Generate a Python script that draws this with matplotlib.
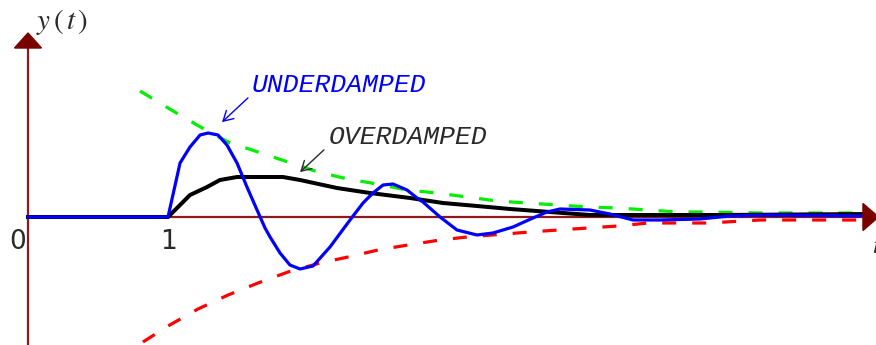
import matplotlib
matplotlib.use("Agg")
import matplotlib.pyplot as plt
from matplotlib.patches import Polygon, FancyArrowPatch

# Step responses read as (t, y) samples
under_t = [0.0, 1.0, 1.086, 1.157, 1.229, 1.286, 1.357, 1.421, 1.493, 1.564,
           1.636, 1.693, 1.729, 1.80, 1.871, 1.943, 2.036, 2.157, 2.30, 2.393,
           2.464, 2.536, 2.607, 2.707, 2.779, 2.821, 2.943, 3.064, 3.207, 3.321,
           3.464, 3.607, 3.707, 3.80, 4.014, 4.157, 4.321, 4.514, 4.80, 5.014,
           5.30, 6.03]
under_y = [0.0, 0.0, 0.54, 0.70, 0.82, 0.84, 0.82, 0.72, 0.54, 0.30,
           0.07, -0.11, -0.20, -0.36, -0.48, -0.52, -0.49, -0.30, -0.03, 0.14,
           0.24, 0.32, 0.33, 0.27, 0.19, 0.15, 0.0, -0.13, -0.18, -0.16,
           -0.10, -0.01, 0.05, 0.08, 0.07, 0.03, -0.03, -0.03, -0.02, 0.01,
           0.02, 0.01]

over_t = [0.0, 1.0, 1.086, 1.157, 1.279, 1.371, 1.493, 1.636, 1.821, 1.943,
          2.207, 2.443, 2.729, 2.964, 3.207, 3.443, 3.729, 4.014, 4.943, 6.03]
over_y = [0.0, 0.0, 0.12, 0.22, 0.30, 0.37, 0.40, 0.40, 0.40, 0.37,
          0.29, 0.24, 0.19, 0.14, 0.11, 0.08, 0.05, 0.02, 0.02, 0.03]

upper_t = [0.80, 1.0, 1.207, 1.429, 1.643, 1.857, 2.071, 2.286, 2.493, 2.707,
           2.921, 3.136, 3.35, 3.564, 3.786, 4.0, 4.207, 4.429, 4.643, 4.857,
           5.229, 6.03]
upper_y = [1.26, 1.09, 0.92, 0.75, 0.65, 0.55, 0.45, 0.38, 0.33, 0.27,
           0.24, 0.20, 0.16, 0.14, 0.12, 0.10, 0.09, 0.07, 0.05, 0.05,
           0.04, 0.04]

lower_t = [0.821, 1.0, 1.214, 1.429, 1.643, 1.857, 2.086, 2.286, 2.5, 2.714,
           2.943, 3.136, 3.586, 3.786, 4.0, 4.214, 4.429, 4.643, 4.857, 5.229,
           6.03]
lower_y = [-1.25, -1.09, -0.92, -0.78, -0.66, -0.55, -0.46, -0.40, -0.33, -0.28,
           -0.23, -0.20, -0.15, -0.13, -0.11, -0.09, -0.06, -0.06, -0.06, -0.03,
           -0.03]

x_ticks = [0, 1]
x_tick_labels = ["0", "1"]

AXIS_COLOR = "#8b1a1a"
PX = 0.72  # points per pixel at dpi 100

plt.rcParams["mathtext.fontset"] = "stix"

fig = plt.figure(figsize=(8.76, 3.45), dpi=100)
ax = fig.add_axes([0, 0, 1, 1])
x0, x1 = -0.2, 6.057
y0, y1 = -1.28, 2.17
ax.set_xlim(x0, x1)
ax.set_ylim(y0, y1)
ax.axis("off")

sx = (x1 - x0) / 876.0   # data units per pixel, horizontal
sy = (y1 - y0) / 345.0   # data units per pixel, vertical


def px2data(px, py):
    return (px * sx + x0, y1 - py * sy)


# coordinate axes with arrow heads
ax.plot([0, 0], [y0, 1.70], color=AXIS_COLOR, lw=1.6, solid_capstyle="butt", zorder=1)
ax.plot([0, 5.97], [0, 0], color=AXIS_COLOR, lw=1.6, solid_capstyle="butt", zorder=1)
ax.add_patch(Polygon([[0, 1.84], [-13.5 * sx, 1.69], [13.5 * sx, 1.69]],
                     closed=True, color="#7a0000", zorder=6))
ax.add_patch(Polygon([[6.075, 0], [5.964, 13.5 * sy], [5.964, -13.5 * sy]],
                     closed=True, color="#7a0000", zorder=6))

# dashed envelopes (dash lengths in multiples of the line width)
env_lw = 3.2 * PX
dash = (14 * PX / env_lw, 16 * PX / env_lw)
ax.plot(lower_t, lower_y, color="#ff0000", lw=env_lw, dashes=dash, zorder=2)
ax.plot(upper_t, upper_y, color="#00ee00", lw=env_lw, dashes=dash, zorder=2)

ax.plot(over_t, over_y, color="black", lw=4.0 * PX, zorder=3,
        solid_joinstyle="round")
ax.plot(under_t, under_y, color="#0000ff", lw=3.2 * PX, zorder=4,
        solid_joinstyle="round")

# tick labels on the time axis
for xv, lab in zip(x_ticks, x_tick_labels):
    ax.text(xv - 10 * sx * (xv == 0), -25 * sy, lab, ha="center", va="center",
            fontsize=19, color="#2a2a2a", family="DejaVu Sans")

ax.text(*px2data(36, 22), r"$y\,(\,t\,)$", ha="left", va="center",
        fontsize=21, color="#2a2a2a")
ax.text(*px2data(872, 246), r"$t$", ha="left", va="center",
        fontsize=18, color="#2a2a2a")

# curve annotations
ax.text(*px2data(252, 85), "UNDERDAMPED", ha="left", va="center",
        fontsize=19, color="#0000ff", family="Liberation Mono", style="italic")
ax.text(*px2data(329, 137), "OVERDAMPED", ha="left", va="center",
        fontsize=19, color="#2a2a2a", family="Liberation Mono", style="italic")

ax.add_patch(FancyArrowPatch(px2data(250, 96), px2data(220, 124),
                             arrowstyle="->,head_length=7,head_width=4",
                             color="#0000ff", lw=1.0, zorder=7))
ax.add_patch(FancyArrowPatch(px2data(326, 148), px2data(298, 174),
                             arrowstyle="->,head_length=7,head_width=4",
                             color="#2a2a2a", lw=1.0, zorder=7))

fig.savefig("out.png", dpi=100)
